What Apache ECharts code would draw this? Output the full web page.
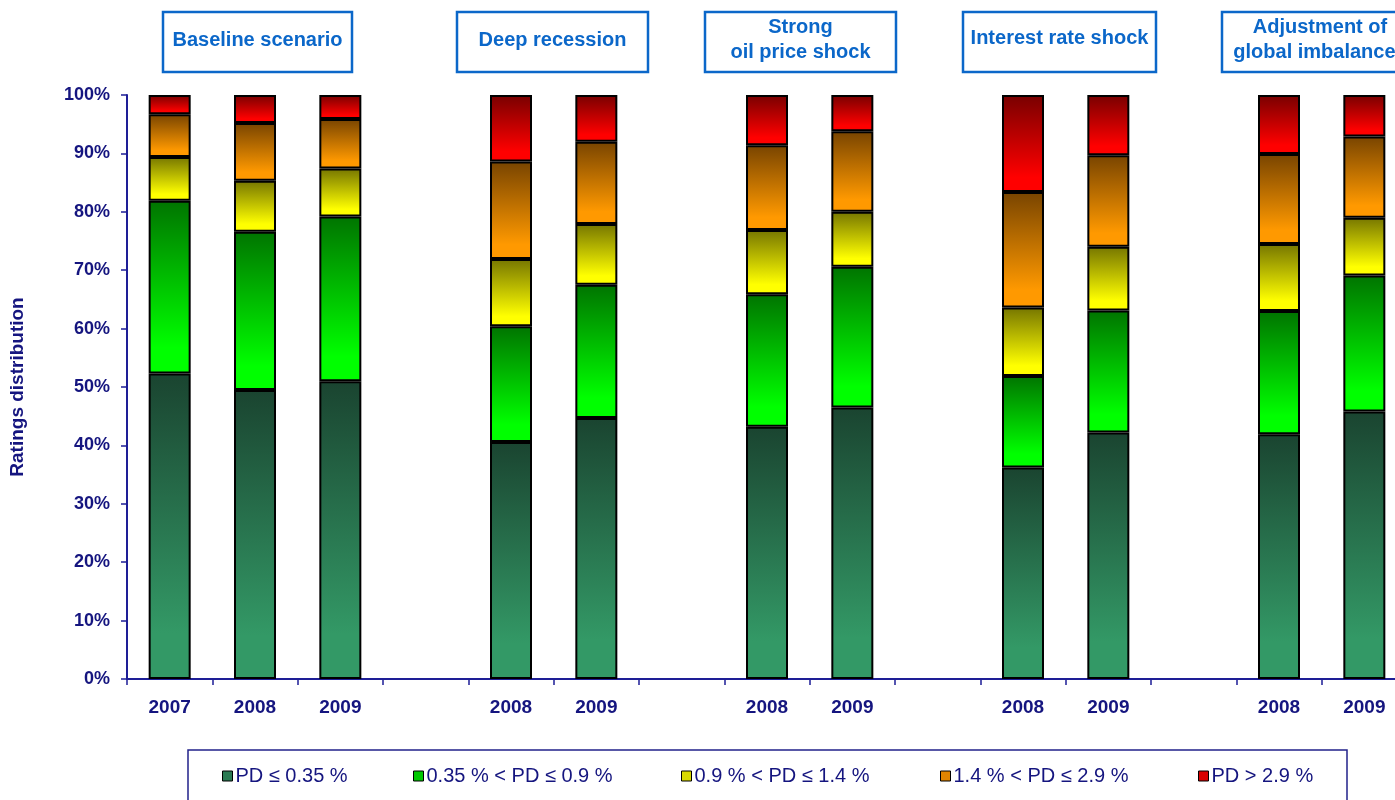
<!DOCTYPE html>
<html>
<head>
<meta charset="utf-8">
<script src="https://cdn.jsdelivr.net/npm/echarts@6/dist/echarts.min.js"></script>
<style>
html,body{margin:0;padding:0;background:#fff;overflow:hidden;width:1395px;height:800px;}
#chart{width:1420px;height:800px;}
</style>
</head>
<body>
<div id="chart"></div>
<script>
// ---- data ----
var categories = ['b2007','b2008','b2009','gap1','d2008','d2009','gap2','o2008','o2009','gap3','i2008','i2009','gap4','a2008','a2009'];
var yearLabels = ['2007','2008','2009','','2008','2009','','2008','2009','','2008','2009','','2008','2009'];
var seriesNames = ['PD \u2264 0.35 %','0.35 % < PD \u2264 0.9 %','0.9 % < PD \u2264 1.4 %','1.4 % < PD \u2264 2.9 %','PD > 2.9 %'];
var pd035 = [52.3,49.5,51.0,null,40.6,44.7,null,43.2,46.5,null,36.2,42.2,null,41.9,45.8];
var pd09  = [29.6,27.1,28.2,null,19.8,22.8,null,22.7,24.1,null,15.7,20.9,null,21.1,23.3];
var pd14  = [7.5,8.7,8.2,null,11.5,10.4,null,11.0,9.4,null,11.7,10.9,null,11.5,9.9];
var pd29  = [7.3,9.9,8.5,null,16.7,14.1,null,14.5,13.8,null,19.8,15.7,null,15.4,13.9];
var pdHi  = [3.3,4.8,4.1,null,11.4,8.0,null,8.6,6.2,null,16.6,10.3,null,10.1,7.1];
var yTicks = [0,10,20,30,40,50,60,70,80,90,100];
var scenarioTitles = ['Baseline scenario','Deep recession','Strong\noil price shock','Interest rate shock','Adjustment of\nglobal imbalances'];

// ---- styling ----
var navy = '#15157f';
var titleBlue = '#0b67c9';
var gradients = [
  ['#1a4430','#339966'],
  ['#007400','#00ff00'],
  ['#767600','#ffff00'],
  ['#784400','#ff9900'],
  ['#780000','#ff0000']
];
var legendColors = ['#2a7a52','#00c800','#d8d800','#e08400','#d80000'];
var legendLeft = [222, 413, 681, 940, 1198];
var allData = [pd035, pd09, pd14, pd29, pdHi];

function grad(c){
  return new echarts.graphic.LinearGradient(0,0,0,1,[
    {offset:0,color:c[0]},{offset:0.85,color:c[1]},{offset:1,color:c[1]}
  ]);
}

var series = allData.map(function(d,i){
  return {
    name: seriesNames[i],
    type: 'bar',
    stack: 'total',
    barWidth: 42,
    data: d,
    itemStyle: {color: grad(gradients[i]), borderColor:'#000', borderWidth:2},
    emphasis: {disabled:true}
  };
});

var legends = seriesNames.map(function(n,i){
  return {
    left: legendLeft[i], top: 766, padding: 0,
    itemWidth: 10, itemHeight: 10, icon: 'rect',
    selectedMode: false,
    textStyle: {color: navy, fontSize: 20, fontFamily: 'Liberation Sans, Arial, sans-serif', padding:[0,0,0,-2]},
    data: [{name: n, itemStyle: {color: legendColors[i], borderColor:'#000', borderWidth:1}}]
  };
});

// title boxes
var boxes = [
  {x:163, w:189, cx:257.5},
  {x:457, w:191, cx:552.5},
  {x:705, w:191, cx:800.5},
  {x:963, w:193, cx:1059.5},
  {x:1222, w:196, cx:1320}
];
var graphics = [];
boxes.forEach(function(b,i){
  graphics.push({type:'rect', shape:{x:b.x, y:12, width:b.w, height:60},
    style:{fill:'#fff', stroke:titleBlue, lineWidth:2.5}, silent:true});
  graphics.push({type:'text', x:b.cx, y:(i===3?38:40),
    style:{text:scenarioTitles[i], fill:titleBlue, font:'bold 20px "Liberation Sans", Arial, sans-serif',
      textAlign:'center', textVerticalAlign:'middle', lineHeight:25}, silent:true});
});
// legend frame
graphics.push({type:'rect', shape:{x:188, y:750, width:1159, height:70},
  style:{fill:'none', stroke:'#22228a', lineWidth:1.5}, silent:true, z:-1});

var chart = echarts.init(document.getElementById('chart'), null, {renderer:'canvas'});
chart.setOption({
  animation: false,
  backgroundColor: '#fff',
  grid: {left:127, top:95, width:1280, height:584, containLabel:false},
  legend: legends,
  graphic: graphics,
  xAxis: {
    type: 'category',
    data: categories,
    boundaryGap: true,
    axisLine: {show:true, lineStyle:{color:'#1e1e96', width:2}},
    axisTick: {show:true, interval:0, length:6, lineStyle:{color:'#1e1e96', width:1.5}},
    axisLabel: {interval:0, margin:19, color:navy, fontSize:19, fontWeight:'bold',
      fontFamily:'Liberation Sans, Arial, sans-serif',
      formatter: function(v, idx){ return yearLabels[idx]; }},
    splitLine: {show:false}
  },
  yAxis: {
    type: 'value',
    min: yTicks[0], max: yTicks[yTicks.length-1], interval: 10,
    name: 'Ratings distribution',
    nameLocation: 'middle', nameRotate: 90, nameGap: 100,
    nameTextStyle: {color:navy, fontSize:19, fontWeight:'bold', fontFamily:'Liberation Sans, Arial, sans-serif'},
    axisLine: {show:true, lineStyle:{color:'#1e1e96', width:2}},
    axisTick: {show:true, length:6, lineStyle:{color:'#1e1e96', width:1.5}},
    axisLabel: {margin:17, color:navy, fontSize:18, fontWeight:'bold',
      fontFamily:'Liberation Sans, Arial, sans-serif', formatter:'{value}%'},
    splitLine: {show:false}
  },
  series: series
});
</script>
</body>
</html>
